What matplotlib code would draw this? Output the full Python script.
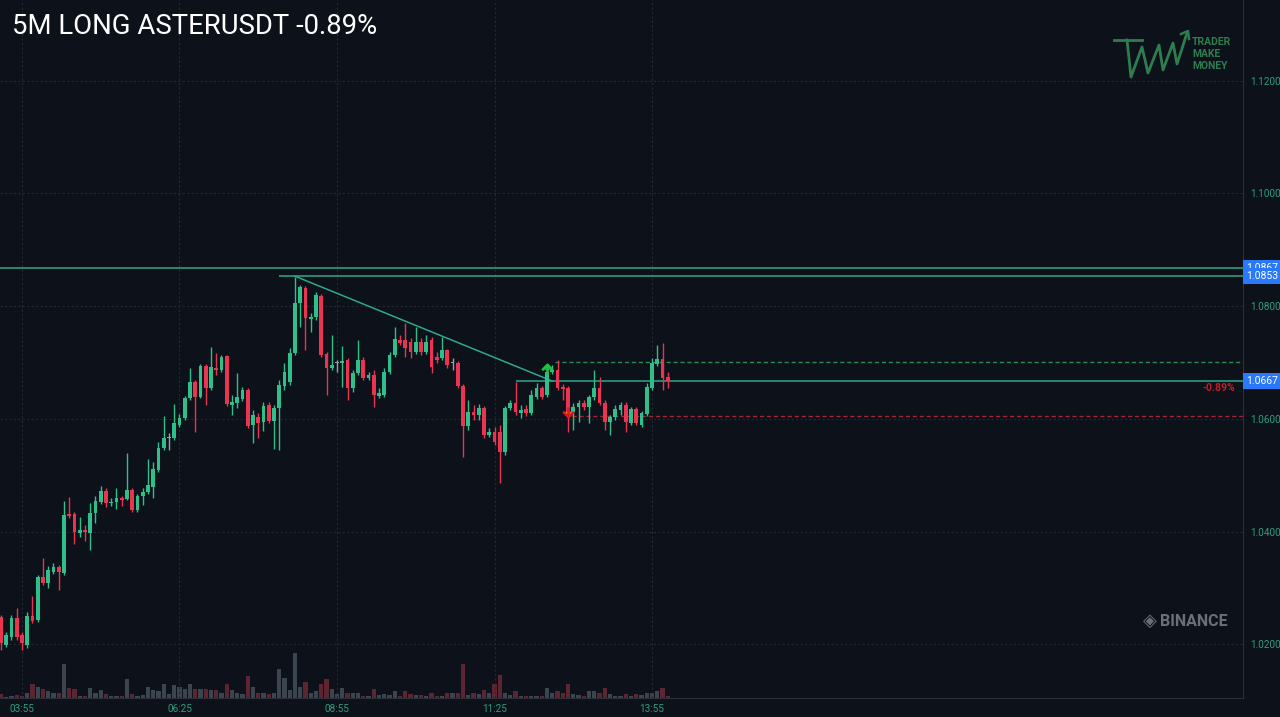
import numpy as np
import matplotlib.pyplot as plt
from matplotlib.path import Path
from matplotlib.lines import Line2D

# 5 minute candles, ASTERUSDT
opens = [1.0248, 1.0199, 1.0213, 1.0247, 1.0217, 1.0199, 1.0250, 1.0243, 1.0319, 1.0309,
         1.0328, 1.0337, 1.0326, 1.0431, 1.0431, 1.0398, 1.0403, 1.0398, 1.0433, 1.0452,
         1.0472, 1.0451, 1.0452, 1.0460, 1.0458, 1.0474, 1.0438, 1.0463, 1.0470, 1.0479,
         1.0509, 1.0548, 1.0566, 1.0566, 1.0589, 1.0602, 1.0637, 1.0665, 1.0639, 1.0694,
         1.0655, 1.0690, 1.0687, 1.0711, 1.0625, 1.0628, 1.0635, 1.0651, 1.0589, 1.0603,
         1.0594, 1.0625, 1.0596, 1.0619, 1.0658, 1.0665, 1.0717, 1.0805, 1.0832, 1.0777,
         1.0781, 1.0818, 1.0715, 1.0690, 1.0699, 1.0699, 1.0704, 1.0655, 1.0681, 1.0704,
         1.0672, 1.0678, 1.0640, 1.0642, 1.0683, 1.0713, 1.0740, 1.0740, 1.0736, 1.0719,
         1.0736, 1.0719, 1.0740, 1.0710, 1.0708, 1.0722, 1.0699, 1.0699, 1.0658, 1.0587,
         1.0612, 1.0607, 1.0619, 1.0571, 1.0577, 1.0577, 1.0541, 1.0619, 1.0628, 1.0610,
         1.0617, 1.0610, 1.0639, 1.0655, 1.0642, 1.0683, 1.0687, 1.0656, 1.0655, 1.0612,
         1.0621, 1.0628, 1.0621, 1.0639, 1.0655, 1.0628, 1.0594, 1.0603, 1.0616, 1.0625,
         1.0593, 1.0617, 1.0589, 1.0609, 1.0655, 1.0697, 1.0706, 1.0674]
highs = [1.0252, 1.0222, 1.0252, 1.0265, 1.0222, 1.0257, 1.0286, 1.0323, 1.0353, 1.0339,
         1.0344, 1.0341, 1.0454, 1.0461, 1.0435, 1.0426, 1.0412, 1.0451, 1.0463, 1.0481,
         1.0477, 1.0460, 1.0477, 1.0463, 1.0539, 1.0477, 1.0467, 1.0477, 1.0529, 1.0523,
         1.0559, 1.0605, 1.0575, 1.0626, 1.0609, 1.0641, 1.0690, 1.0669, 1.0697, 1.0697,
         1.0727, 1.0717, 1.0713, 1.0713, 1.0642, 1.0681, 1.0656, 1.0655, 1.0616, 1.0610,
         1.0630, 1.0630, 1.0625, 1.0669, 1.0699, 1.0726, 1.0852, 1.0837, 1.0836, 1.0788,
         1.0825, 1.0821, 1.0719, 1.0749, 1.0704, 1.0729, 1.0708, 1.0687, 1.0740, 1.0710,
         1.0683, 1.0687, 1.0655, 1.0690, 1.0719, 1.0763, 1.0749, 1.0770, 1.0743, 1.0763,
         1.0743, 1.0749, 1.0745, 1.0719, 1.0745, 1.0724, 1.0708, 1.0703, 1.0662, 1.0633,
         1.0625, 1.0626, 1.0623, 1.0584, 1.0586, 1.0589, 1.0623, 1.0633, 1.0665, 1.0625,
         1.0625, 1.0651, 1.0664, 1.0658, 1.0690, 1.0695, 1.0704, 1.0662, 1.0658, 1.0628,
         1.0633, 1.0633, 1.0642, 1.0687, 1.0674, 1.0633, 1.0607, 1.0625, 1.0630, 1.0630,
         1.0621, 1.0621, 1.0614, 1.0664, 1.0708, 1.0731, 1.0735, 1.0683]
lows = [1.0190, 1.0195, 1.0208, 1.0208, 1.0190, 1.0193, 1.0238, 1.0240, 1.0305, 1.0300,
        1.0325, 1.0296, 1.0323, 1.0424, 1.0378, 1.0390, 1.0383, 1.0367, 1.0415, 1.0449,
        1.0444, 1.0445, 1.0440, 1.0445, 1.0456, 1.0435, 1.0435, 1.0447, 1.0467, 1.0460,
        1.0506, 1.0545, 1.0545, 1.0562, 1.0586, 1.0598, 1.0633, 1.0577, 1.0637, 1.0625,
        1.0651, 1.0678, 1.0683, 1.0623, 1.0607, 1.0619, 1.0632, 1.0584, 1.0557, 1.0566,
        1.0578, 1.0593, 1.0546, 1.0545, 1.0651, 1.0660, 1.0713, 1.0763, 1.0722, 1.0754,
        1.0775, 1.0710, 1.0642, 1.0687, 1.0683, 1.0656, 1.0633, 1.0648, 1.0678, 1.0669,
        1.0669, 1.0621, 1.0637, 1.0639, 1.0680, 1.0710, 1.0731, 1.0710, 1.0708, 1.0715,
        1.0713, 1.0715, 1.0681, 1.0699, 1.0704, 1.0690, 1.0687, 1.0655, 1.0532, 1.0580,
        1.0598, 1.0598, 1.0566, 1.0568, 1.0554, 1.0486, 1.0536, 1.0616, 1.0607, 1.0601,
        1.0605, 1.0607, 1.0635, 1.0635, 1.0639, 1.0680, 1.0651, 1.0633, 1.0577, 1.0580,
        1.0594, 1.0616, 1.0593, 1.0633, 1.0625, 1.0580, 1.0571, 1.0598, 1.0607, 1.0577,
        1.0589, 1.0589, 1.0586, 1.0605, 1.0651, 1.0694, 1.0651, 1.0655]
closes = [1.0202, 1.0217, 1.0247, 1.0213, 1.0202, 1.0250, 1.0241, 1.0319, 1.0309, 1.0332,
          1.0337, 1.0328, 1.0429, 1.0428, 1.0399, 1.0403, 1.0399, 1.0433, 1.0454, 1.0472,
          1.0451, 1.0452, 1.0460, 1.0456, 1.0474, 1.0438, 1.0463, 1.0470, 1.0483, 1.0511,
          1.0548, 1.0566, 1.0566, 1.0593, 1.0602, 1.0637, 1.0665, 1.0639, 1.0694, 1.0655,
          1.0692, 1.0687, 1.0710, 1.0626, 1.0630, 1.0639, 1.0651, 1.0587, 1.0607, 1.0593,
          1.0623, 1.0596, 1.0619, 1.0660, 1.0683, 1.0717, 1.0805, 1.0834, 1.0779, 1.0781,
          1.0820, 1.0713, 1.0690, 1.0695, 1.0699, 1.0703, 1.0655, 1.0681, 1.0704, 1.0672,
          1.0678, 1.0642, 1.0646, 1.0683, 1.0713, 1.0742, 1.0735, 1.0726, 1.0719, 1.0736,
          1.0719, 1.0736, 1.0692, 1.0704, 1.0722, 1.0695, 1.0699, 1.0658, 1.0587, 1.0612,
          1.0607, 1.0619, 1.0571, 1.0577, 1.0559, 1.0541, 1.0619, 1.0628, 1.0612, 1.0616,
          1.0610, 1.0642, 1.0655, 1.0639, 1.0683, 1.0687, 1.0655, 1.0653, 1.0607, 1.0621,
          1.0628, 1.0621, 1.0639, 1.0655, 1.0628, 1.0594, 1.0603, 1.0617, 1.0625, 1.0594,
          1.0617, 1.0593, 1.0610, 1.0656, 1.0699, 1.0706, 1.0672, 1.0667]
volumes = [8, 3, 4, 6, 4, 10, 30, 25, 20, 15, 10, 12, 75, 22, 20, 5, 5, 22, 12, 17,
           8, 5, 5, 4, 42, 8, 5, 6, 25, 18, 15, 30, 8, 28, 25, 20, 30, 20, 20, 20,
           18, 18, 12, 30, 18, 12, 8, 48, 25, 10, 10, 8, 10, 65, 45, 18, 100, 25, 35, 12,
           15, 30, 42, 20, 8, 22, 12, 12, 10, 5, 5, 20, 6, 8, 6, 15, 5, 15, 8, 6,
           6, 5, 12, 5, 5, 12, 10, 12, 75, 6, 10, 8, 18, 10, 30, 50, 10, 6, 15, 5,
           5, 5, 5, 5, 22, 10, 15, 12, 30, 8, 6, 5, 15, 15, 10, 22, 8, 5, 5, 8,
           5, 8, 6, 10, 12, 15, 22, 5]

time_ticks = [4, 34, 64, 94, 124]
time_labels = ['03:55', '06:25', '08:55', '11:25', '13:55']
price_ticks = [1.02, 1.04, 1.06, 1.08, 1.10, 1.12]

level_top = 1.0867
level_high = 1.0853
level_entry = 1.0667
level_target = 1.0701
level_stop = 1.0605
trend_x = [56, 105]
trend_y = [1.0853, 1.0667]
pnl_text = '-0.89%'

BG = '#0d111a'
GREEN = '#2fbf8b'
RED = '#eb3452'
TEAL = '#2e9e80'
LINE = '#2fa88c'
BLUE = '#2979ff'

fig = plt.figure(figsize=(12.8, 7.17), dpi=100, facecolor=BG)
rect = [0, 19 / 717, 1243 / 1280, 698 / 717]
ax_vol = fig.add_axes(rect)
ax = fig.add_axes(rect, sharex=ax_vol)
ax.patch.set_visible(False)
ax_vol.set_facecolor(BG)

n = len(opens)
x = np.arange(n)
o = np.array(opens)
c = np.array(closes)
h = np.array(highs)
l = np.array(lows)
up = c > o
flat = c == o
cols = np.where(up, GREEN, RED).astype(object)
cols[flat] = '#9aa0a8'

# volume
vcols = np.where(c >= o, '#3a4550', '#5c2531')
ax_vol.bar(x, volumes, width=0.85, color=vcols, linewidth=0)
ax_vol.set_ylim(0, 1551)
ax_vol.axis('off')

# grid
for t in time_ticks:
    ax.axvline(t, color='#232834', lw=0.8, ls=(0, (2, 2)), zorder=0)
for p in price_ticks:
    ax.axhline(p, color='#232834', lw=0.8, ls=(0, (2, 2)), zorder=0)

# candles
ax.vlines(x, l, h, colors=list(cols), lw=1, zorder=3)
body = np.maximum(np.abs(c - o), 0.00012)
ax.bar(x, body, bottom=np.minimum(o, c), width=0.7, color=list(cols), linewidth=0, zorder=4)

# drawings
ax.axhline(level_top, color=LINE, lw=1.1, zorder=2)
ax.hlines(level_high, 53, 240, color=LINE, lw=1.1, zorder=2)
ax.plot(trend_x, trend_y, color=LINE, lw=1.1, zorder=2)
ax.hlines(level_entry, 98, 240, color=LINE, lw=1.1, zorder=2)
ax.hlines(level_target, 105.5, 240, color='#2b8a55', lw=1, ls=(0, (3, 2)), zorder=2)
ax.hlines(level_stop, 108.8, 240, color='#a52535', lw=1, ls=(0, (3, 2)), zorder=2)

up_mark = Path([(-1, -0.5), (0, 0.5), (1, -0.5), (0, 0.5), (0, -1.3)],
               [Path.MOVETO, Path.LINETO, Path.LINETO, Path.MOVETO, Path.LINETO])
dn_mark = Path([(-1, 0.5), (0, -0.5), (1, 0.5), (0, -0.5), (0, 1.3)],
               [Path.MOVETO, Path.LINETO, Path.LINETO, Path.MOVETO, Path.LINETO])
ax.plot([104], [1.0692], marker=up_mark, ms=10, mew=1.8, mec='#22c23c', ls='none', zorder=6)
ax.plot([108], [1.0608], marker=dn_mark, ms=10, mew=1.8, mec='#d4182a', ls='none', zorder=6)

ax.text(232, 1.0655, pnl_text, color='#c41c28', fontsize=7.5, fontweight='bold',
        ha='center', va='center', family='Roboto')

ax.set_xlim(-0.19, 236.57)
ax.set_ylim(1.01047, 1.1343)

# axes styling
for s in ['top', 'left']:
    ax.spines[s].set_visible(False)
for s in ['right', 'bottom']:
    ax.spines[s].set_color('#2c3039')
ax.yaxis.tick_right()
ax.set_yticks(price_ticks)
ax.set_yticklabels([f'{p:.4f}' for p in price_ticks])
ax.set_xticks(time_ticks)
ax.set_xticklabels(time_labels)
ax.tick_params(axis='both', length=0, colors=TEAL, labelsize=7.2)
ax.tick_params(axis='y', pad=5)
ax.tick_params(axis='x', pad=4)
for lab in ax.get_xticklabels() + ax.get_yticklabels():
    lab.set_family('Roboto')

# price tags
for val in [level_top, level_high, level_entry]:
    ax.annotate(f'{val:.4f}', xy=(1.0, val), xycoords=('axes fraction', 'data'),
                xytext=(2.5, 0), textcoords='offset points', ha='left', va='center',
                color='white', fontsize=7.5, family='Roboto',
                bbox=dict(boxstyle='square,pad=0.3', fc=BLUE, ec='none'),
                annotation_clip=False, zorder=10)

# title
fig.text(12 / 1280, 1 - 27 / 717, '5M LONG ASTERUSDT -0.89%', color='white',
         fontsize=19.8, family='Roboto', ha='left', va='center')

# logo, top right
logo = '#2e7d4f'
lx = [1114, 1142, 1127, 1131, 1142, 1148, 1159, 1163, 1173, 1177, 1187]
ly = [40, 40, 40, 77, 47, 73, 45, 70, 43, 64, 33]
fig.add_artist(Line2D([v / 1280 for v in lx[:2]], [1 - v / 717 for v in ly[:2]],
                      color=logo, lw=2, transform=fig.transFigure))
fig.add_artist(Line2D([v / 1280 for v in lx[2:]], [1 - v / 717 for v in ly[2:]],
                      color=logo, lw=2, transform=fig.transFigure))
fig.add_artist(Line2D([1181 / 1280, 1188 / 1280, 1189 / 1280],
                      [1 - 34 / 717, 1 - 31 / 717, 1 - 39 / 717],
                      color=logo, lw=1.8, transform=fig.transFigure))
for k, word in enumerate(['TRADER', 'MAKE', 'MONEY']):
    fig.text(1192 / 1280, 1 - (42 + 12 * k) / 717, word, color=logo, fontsize=7.5,
             fontweight='bold', family='Roboto', ha='left', va='center')

# binance watermark
fig.text(1150 / 1280, 1 - 621 / 717, '\u25C8', color='#6b6f78', fontsize=13,
         ha='center', va='center', family='DejaVu Sans')
fig.text(1160 / 1280, 1 - 621 / 717, 'BINANCE', color='#6b6f78', fontsize=11.5,
         fontweight='bold', family='Roboto', ha='left', va='center')

fig.savefig('out.png', dpi=100, facecolor=BG)
